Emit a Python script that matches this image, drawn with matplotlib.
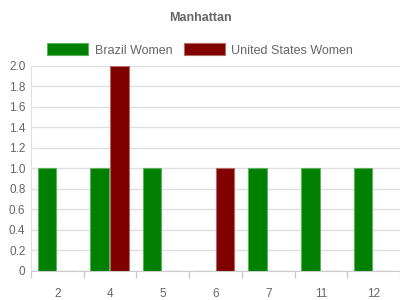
import numpy as np
import matplotlib
matplotlib.use("Agg")
import matplotlib.pyplot as plt
from matplotlib.ticker import FixedLocator

plt.rcParams['font.family'] = ['Liberation Sans', 'DejaVu Sans']

# Data
categories = ['2', '4', '5', '6', '7', '11', '12']
brazil_women = [1, 1, 1, 0, 1, 1, 1]
us_women = [0, 2, 0, 1, 0, 0, 0]

txt = '#666666'
grid = '#e0e0e0'

fig = plt.figure(figsize=(4, 3), dpi=100)
ax = fig.add_axes([0.0775, 0.0967, 0.9225, 0.6833])

x = np.arange(len(categories))
w = 0.35
ax.bar(x - 0.2, brazil_women, w, color='#008000', edgecolor='#5fb35f', linewidth=0.8,
       label='Brazil Women', zorder=3)
ax.bar(x + 0.18, us_women, w, color='#800000', edgecolor='#b36a6a', linewidth=0.8,
       label='United States Women', zorder=3)

ax.set_xlim(-0.5, len(categories) - 0.5)
ax.set_ylim(0, 2.0)

yt = np.arange(0, 2.01, 0.2)
ax.set_yticks(yt)
ax.set_yticklabels(['0'] + [f'{v:.1f}' for v in yt[1:]])
ax.yaxis.grid(True, color=grid, linewidth=1, zorder=0)

ax.set_xticks(x)
ax.set_xticklabels(categories)
ax.xaxis.set_minor_locator(FixedLocator(np.arange(-0.5, len(categories), 1.0)))
ax.tick_params(axis='x', which='major', length=0, pad=12, labelsize=8.5, labelcolor=txt)
ax.tick_params(axis='x', which='minor', length=5, color='#cccccc', width=1)
ax.tick_params(axis='y', length=0, pad=4, labelsize=8.5, labelcolor=txt)

for s in ['top', 'right']:
    ax.spines[s].set_visible(False)
ax.spines['left'].set_color(grid)
ax.spines['bottom'].set_color('#cccccc')

fig.text(0.5, 0.94, 'Manhattan', ha='center', va='center', fontsize=9,
         fontweight='bold', color=txt)

leg = fig.legend(loc='center', bbox_to_anchor=(0.5, 0.833), ncol=2, frameon=False,
                 fontsize=9, handlelength=3.3, handleheight=1.1, columnspacing=0.9,
                 handletextpad=0.5)
for t in leg.get_texts():
    t.set_color(txt)

fig.savefig('out.png', dpi=100)
